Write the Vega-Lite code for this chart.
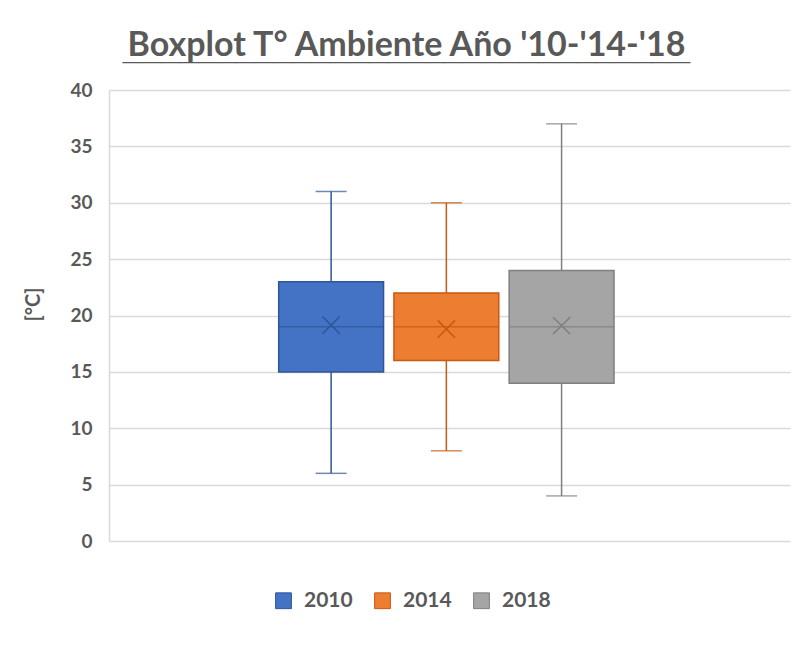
{
  "$schema": "https://vega.github.io/schema/vega-lite/v6.json",
  "autosize": {"type": "none"},
  "padding": {"left": 109, "top": 90, "right": 11, "bottom": 106},
  "width": 681,
  "height": 451,
  "background": "white",
  "config": {
    "view": {"stroke": null},
    "font": "Lato"
  },
  "title": {
    "text": "Boxplot T° Ambiente Año '10-'14-'18",
    "subtitle": "______________________________",
    "anchor": "middle",
    "frame": "group",
    "dx": -43,
    "offset": 15,
    "font": "Lato",
    "fontSize": 34,
    "fontWeight": "bold",
    "color": "#595959",
    "subtitleFont": "Liberation Sans",
    "subtitleFontSize": 34,
    "subtitleFontWeight": "bold",
    "subtitleColor": "#595959",
    "subtitlePadding": -31
  },
  "data": {
    "values": [
      {"year": "2010", "min": 6, "q1": 15, "median": 19, "q3": 23, "max": 31, "mean": 19.15},
      {"year": "2014", "min": 8, "q1": 16, "median": 19, "q3": 22, "max": 30, "mean": 18.8},
      {"year": "2018", "min": 4, "q1": 14, "median": 19, "q3": 24, "max": 37, "mean": 19.1}
    ]
  },
  "encoding": {
    "x": {
      "field": "year",
      "type": "nominal",
      "scale": {"domain": ["", "2010", "2014", "2018", " "], "paddingInner": 0, "paddingOuter": 0.455, "align": 0.47},
      "axis": null
    }
  },
  "layer": [
    {
      "mark": {"type": "rule", "strokeWidth": 1.5},
      "encoding": {
        "y": {
          "field": "min",
          "type": "quantitative",
          "scale": {"domain": [0, 40], "nice": false},
          "axis": {
            "values": [0, 5, 10, 15, 20, 25, 30, 35, 40],
            "title": "[°C]",
            "titleFont": "Lato",
            "titleFontSize": 20,
            "titleFontWeight": "bold",
            "titleColor": "#595959",
            "titlePadding": 26,
            "titleY": 214,
            "labelFont": "Lato",
            "labelFontSize": 19,
            "labelFontWeight": "bold",
            "labelColor": "#595959",
            "labelPadding": 17,
            "ticks": false,
            "domainColor": "#d9d9d9",
            "domainWidth": 1.5,
            "gridColor": "#d9d9d9",
            "gridWidth": 1.5
          }
        },
        "y2": {"field": "max"},
        "color": {
          "field": "year",
          "type": "nominal",
          "scale": {"range": ["#2F5597", "#C55A11", "#7F7F7F"]},
          "legend": null
        }
      }
    },
    {
      "mark": {"type": "tick", "size": 31, "thickness": 1.5},
      "encoding": {
        "y": {"field": "max", "type": "quantitative"},
        "color": {"field": "year", "type": "nominal", "legend": null}
      }
    },
    {
      "mark": {"type": "tick", "size": 31, "thickness": 1.5},
      "encoding": {
        "y": {"field": "min", "type": "quantitative"},
        "color": {"field": "year", "type": "nominal", "legend": null}
      }
    },
    {
      "mark": {"type": "bar", "width": {"band": 0.91}, "strokeWidth": 1.5},
      "encoding": {
        "y": {"field": "q1", "type": "quantitative"},
        "y2": {"field": "q3"},
        "fill": {
          "field": "year",
          "type": "nominal",
          "title": null,
          "scale": {"range": ["#4472C4", "#ED7D31", "#A5A5A5"]},
          "legend": {
            "orient": "none",
            "direction": "horizontal",
            "legendX": 164,
            "legendY": 500,
            "symbolType": "square",
            "symbolSize": 250,
            "symbolStrokeWidth": 1,
            "labelFont": "Lato",
            "labelFontSize": 21,
            "labelFontWeight": "bold",
            "labelColor": "#595959",
            "labelOffset": 10,
            "columnPadding": 19
          }
        },
        "stroke": {
          "field": "year",
          "type": "nominal",
          "title": null,
          "scale": {"range": ["#2F5597", "#C55A11", "#7F7F7F"]}
        }
      }
    },
    {
      "mark": {"type": "tick", "size": 104, "thickness": 1.5},
      "encoding": {
        "y": {"field": "median", "type": "quantitative"},
        "color": {"field": "year", "type": "nominal", "legend": null}
      }
    },
    {
      "mark": {"type": "point", "shape": "M-1,-1L1,1M-1,1L1,-1", "filled": false, "size": 300, "strokeWidth": 1.5, "opacity": 1},
      "encoding": {
        "y": {"field": "mean", "type": "quantitative"},
        "color": {"field": "year", "type": "nominal", "legend": null}
      }
    }
  ]
}
